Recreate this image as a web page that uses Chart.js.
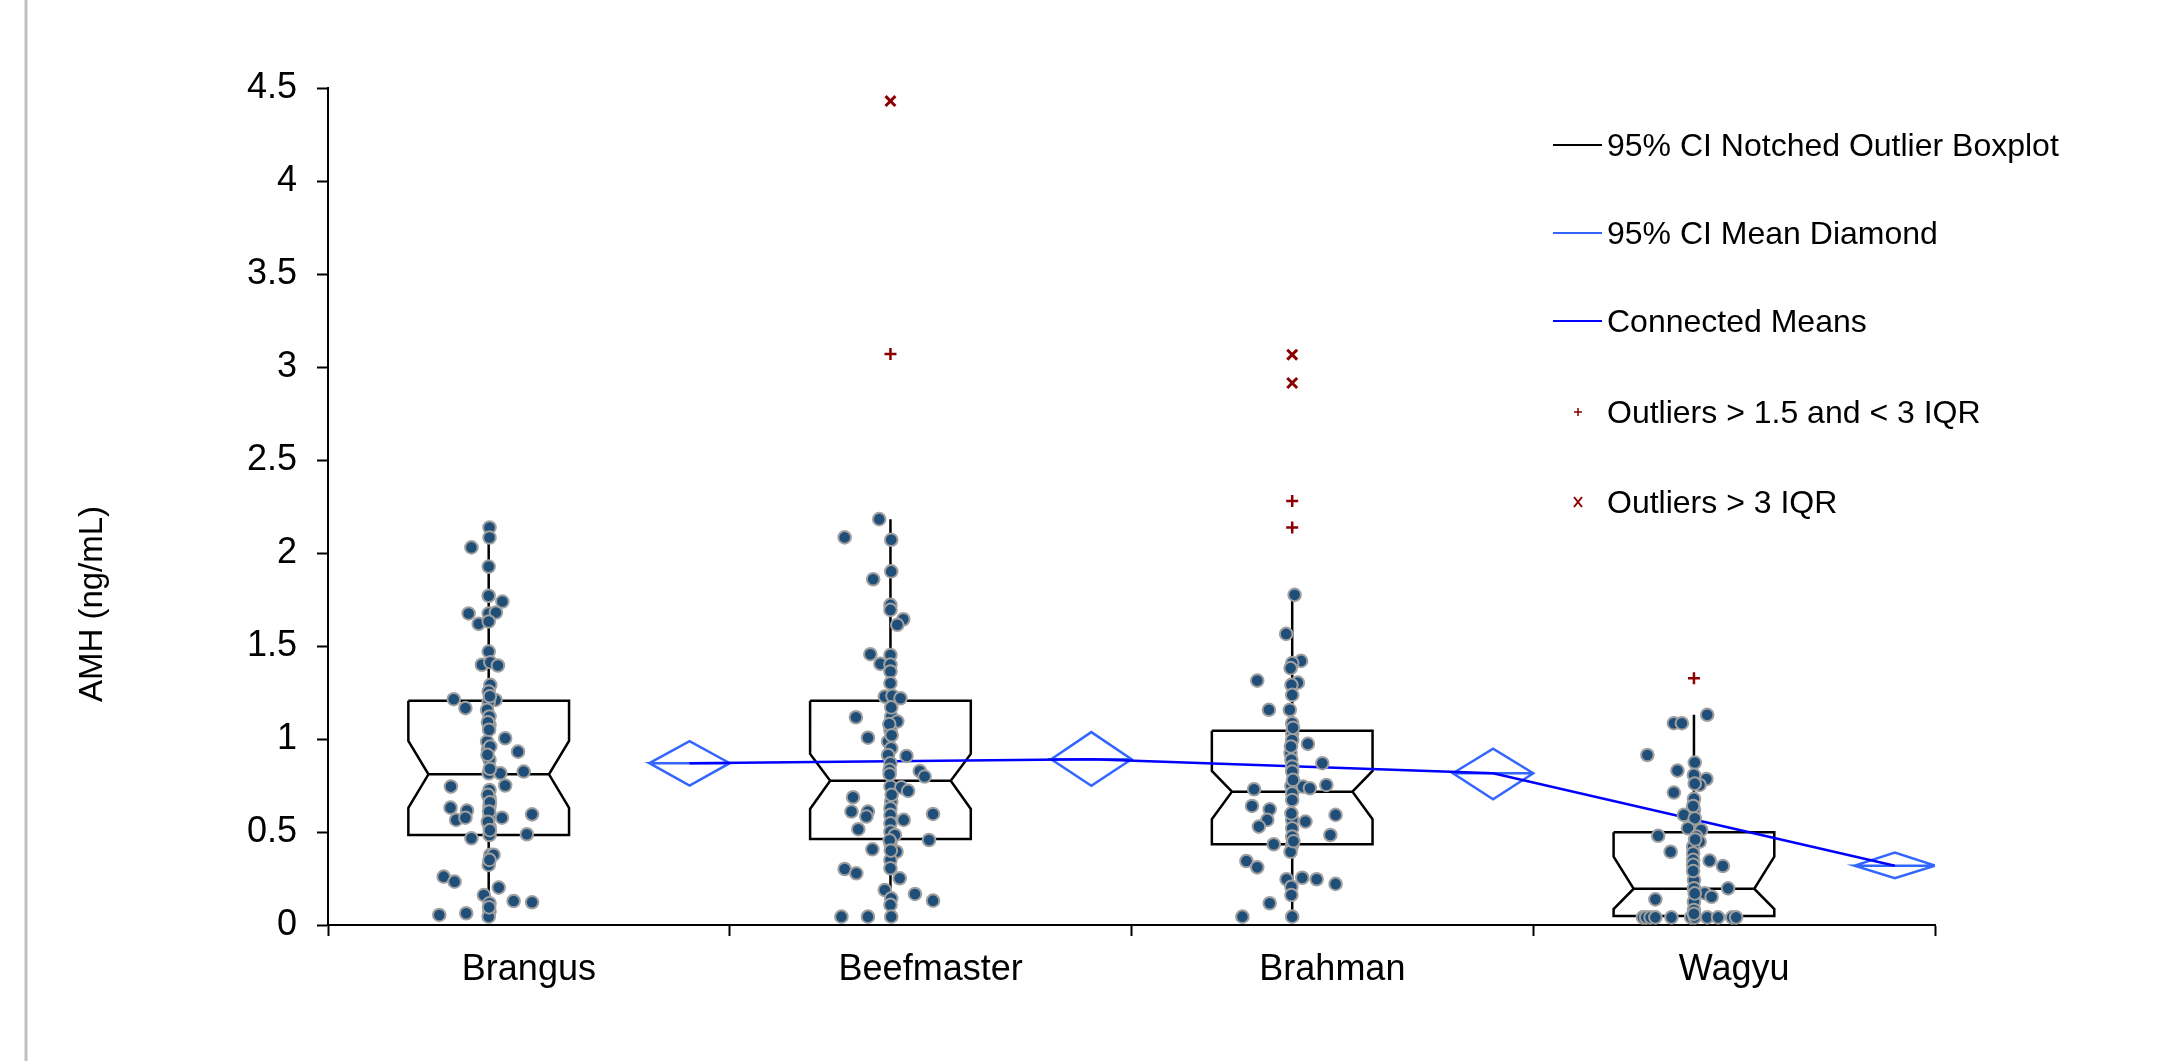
<!DOCTYPE html>
<html>
<head>
<meta charset="utf-8">
<script src="https://cdn.jsdelivr.net/npm/chart.js@4.4.0/dist/chart.umd.min.js"></script>
<style>
  html, body { margin: 0; padding: 0; background: #fff; }
  #wrap { width: 2167px; height: 1061px; }
</style>
</head>
<body>
<div id="wrap"><canvas id="amhChart" width="2167" height="1061"></canvas></div>
<script>
var categories = ["Brangus", "Beefmaster", "Brahman", "Wagyu"];
var yTicks = [0, 0.5, 1, 1.5, 2, 2.5, 3, 3.5, 4, 4.5];

// notched boxplot stats
var q1 = [0.484, 0.463, 0.434, 0.048];
var notchLow = [0.63, 0.624, 0.569, 0.086];
var median = [0.81, 0.775, 0.717, 0.195];
var notchHigh = [0.99, 0.92, 0.828, 0.367];
var q3 = [1.205, 1.205, 1.044, 0.499];
var whiskerLow = [0.045, 0.045, 0.045, 0.045];
var whiskerHigh = [2.137, 2.182, 1.775, 1.13];

// mean diamonds
var means = [0.87, 0.891, 0.816, 0.319];
var ciLow = [0.749, 0.748, 0.676, 0.251];
var ciHigh = [0.988, 1.037, 0.948, 0.389];

// outliers
var mildOutliers = [[], [3.07], [2.28, 2.137], [1.327]];
var extremeOutliers = [[], [4.43], [3.066, 2.914], []];

// individual animals (value, horizontal jitter in category units)
var brangusAMH = [2.137, 2.083, 2.03, 1.927, 1.77, 1.739, 1.675, 1.675, 1.68, 1.619,
  1.632, 1.47, 1.399, 1.413, 1.395, 1.291, 1.255, 1.214, 1.21, 1.2,
  1.166, 1.157, 1.121, 1.076, 1.004, 0.986, 0.941, 0.932, 0.888, 0.816,
  0.816, 0.825, 0.75, 0.744, 0.726, 0.681, 0.631, 0.615, 0.637, 0.565,
  0.577, 0.583, 0.577, 0.595, 0.529, 0.484, 0.488, 0.466, 0.377, 0.378,
  0.323, 0.26, 0.233, 0.201, 0.161, 0.129, 0.122, 0.117, 0.072, 0.054,
  0.063, 0.045, 1.23, 1.09, 1.05, 0.96, 0.915, 0.84, 0.7, 0.66,
  0.61, 0.555, 0.51, 0.35, 0.095];
var brangusJitter = [0.002, 0.002, -0.043, 0, 0, 0.034, -0.05, 0, 0.018, -0.025,
  0, 0, -0.017, 0.004, 0.023, 0.004, 0, -0.087, 0.017, 0,
  -0.058, -0.004, 0.002, 0.002, 0.041, -0.004, -0.002, 0.073, 0.002, 0,
  0.029, 0.087, 0.041, -0.094, 0.002, 0.002, -0.095, -0.054, 0.002, -0.081,
  -0.058, 0.002, 0.033, 0.108, 0.002, 0.002, 0.095, -0.043, 0.004, 0.012,
  0, -0.112, -0.085, 0.025, -0.012, 0.062, 0.108, 0.002, 0.002, -0.123,
  -0.056, 0, 0.003, -0.002, 0.001, 0.004, -0.003, 0.003, -0.002, 0.003,
  0.001, -0.002, 0.003, 0.002, 0.001];

var beefmasterAMH = [2.182, 2.084, 2.071, 1.901, 1.859, 1.721, 1.694, 1.644, 1.614, 1.456,
  1.452, 1.404, 1.4, 1.363, 1.3, 1.228, 1.232, 1.219, 1.117, 1.12,
  1.094, 1.049, 1.007, 0.986, 0.95, 0.909, 0.914, 0.87, 0.834, 0.828,
  0.798, 0.744, 0.74, 0.721, 0.687, 0.663, 0.628, 0.61, 0.61, 0.583,
  0.592, 0.565, 0.597, 0.547, 0.515, 0.502, 0.484, 0.457, 0.439, 0.407,
  0.394, 0.35, 0.305, 0.301, 0.278, 0.251, 0.188, 0.167, 0.143, 0.131,
  0.108, 0.045, 0.045, 0.045, 1.17, 1.08, 1.02, 0.81, 0.7, 0.455,
  0.4];
var beefmasterJitter = [-0.028, -0.114, 0.002, 0.002, -0.043, 0, 0, 0.032, 0.017, -0.05,
  0, -0.025, 0, 0, 0, -0.014, 0.005, 0.025, -0.086, 0.002,
  0.017, 0, -0.056, -0.006, 0.002, 0.04, -0.006, 0, -0.002, 0.073,
  0.085, 0, 0.027, 0.044, -0.093, 0.002, 0, -0.097, -0.056, -0.06,
  0, 0.033, 0.106, 0, -0.08, 0, 0.011, 0.096, 0, -0.045,
  0.015, 0, 0, -0.114, -0.085, 0.023, -0.014, 0.061, 0.002, 0.106,
  0, -0.122, -0.056, 0.002, 0.002, -0.003, 0.003, -0.002, 0.003, -0.002,
  0.001];

var brahmanAMH = [1.775, 1.565, 1.42, 1.408, 1.381, 1.314, 1.303, 1.291, 1.237, 1.157,
  1.157, 1.085, 1.031, 0.995, 0.974, 0.923, 0.888, 0.87, 0.852, 0.825,
  0.73, 0.748, 0.744, 0.735, 0.753, 0.708, 0.64, 0.622, 0.672, 0.565,
  0.556, 0.592, 0.565, 0.529, 0.52, 0.484, 0.475, 0.434, 0.43, 0.394,
  0.344, 0.31, 0.246, 0.254, 0.246, 0.221, 0.206, 0.161, 0.117, 0.045,
  0.045, 1.06, 0.96, 0.78, 0.6, 0.45];
var brahmanJitter = [0.006, -0.015, 0.022, 0, -0.004, -0.087, 0.014, -0.002, 0, -0.058,
  -0.006, 0, 0, 0, 0.039, -0.004, -0.002, 0.075, 0, 0,
  -0.095, -0.002, 0.027, 0.044, 0.085, 0, -0.1, -0.056, 0, 0,
  0.033, 0.108, -0.062, -0.083, 0, 0.095, 0, -0.046, 0, -0.004,
  -0.114, -0.087, -0.014, 0.025, 0.061, 0.108, -0.002, -0.002, -0.056, -0.124,
  0, 0.002, -0.003, 0.002, -0.002, 0.003];

var wagyuAMH = [1.13, 1.085, 1.085, 0.914, 0.873, 0.83, 0.807, 0.785, 0.753, 0.712,
  0.678, 0.619, 0.592, 0.574, 0.52, 0.511, 0.48, 0.475, 0.448, 0.421,
  0.394, 0.386, 0.35, 0.346, 0.317, 0.323, 0.242, 0.197, 0.197, 0.171,
  0.152, 0.138, 0.125, 0.081, 0.041, 0.041, 0.041, 0.041, 0.041, 0.041,
  0.041, 0.041, 0.041, 0.041, 0.041, 0.06, 0.76, 0.64, 0.46, 0.29,
  0.17];
var wagyuJitter = [0.033, -0.05, -0.03, -0.116, 0.002, -0.041, 0, 0.031, 0.014, -0.05,
  0, 0, -0.025, 0.002, -0.015, 0.018, -0.089, 0.006, 0.014, -0.002,
  -0.058, -0.002, -0.002, 0.039, 0.072, -0.002, 0, 0.085, 0, 0.027,
  0.044, -0.096, 0, 0, -0.127, -0.119, -0.108, -0.096, -0.056, -0.007,
  0.002, 0.033, 0.06, 0.095, 0.105, 0, 0.002, -0.002, 0.003, -0.002,
  0.002];

var legendLabels = ["95% CI Notched Outlier Boxplot", "95% CI Mean Diamond", "Connected Means",
  "Outliers > 1.5 and < 3 IQR", "Outliers > 3 IQR"];

var dotValues = [brangusAMH, beefmasterAMH, brahmanAMH, wagyuAMH];
var dotJitter = [brangusJitter, beefmasterJitter, brahmanJitter, wagyuJitter];

var boxColor = "#000000";
var diamondColor = "#3366FF";
var meanColor = "#0000FF";
var dotFill = "#1F4E79";
var dotEdge = "#A0A0A0";
var outlierColor = "#8B0000";
var FONT = "'Liberation Sans', Arial, sans-serif";

// horizontal placement inside each category band (x axis runs 0..4)
var boxPos = 0.4, boxHalf = 0.2, notchHalf = 0.15, diamondPos = 0.9, diamondHalf = 0.1;

var boxPts = [], diamondPts = [], meanPts = [], dotPts = [], mildPts = [], extremePts = [];
categories.forEach(function (name, i) {
  var c = i + boxPos;
  boxPts.push(
    {x: c - boxHalf, y: q3[i]}, {x: c + boxHalf, y: q3[i]}, {x: c + boxHalf, y: notchHigh[i]},
    {x: c + notchHalf, y: median[i]}, {x: c + boxHalf, y: notchLow[i]}, {x: c + boxHalf, y: q1[i]},
    {x: c - boxHalf, y: q1[i]}, {x: c - boxHalf, y: notchLow[i]}, {x: c - notchHalf, y: median[i]},
    {x: c - boxHalf, y: notchHigh[i]}, {x: c - boxHalf, y: q3[i]}, {x: c, y: null},
    {x: c - notchHalf, y: median[i]}, {x: c + notchHalf, y: median[i]}, {x: c, y: null},
    {x: c, y: q3[i]}, {x: c, y: whiskerHigh[i]}, {x: c, y: null},
    {x: c, y: q1[i]}, {x: c, y: whiskerLow[i]}, {x: c, y: null}
  );
  var d = i + diamondPos;
  diamondPts.push(
    {x: d - diamondHalf, y: means[i]}, {x: d, y: ciHigh[i]}, {x: d + diamondHalf, y: means[i]},
    {x: d, y: ciLow[i]}, {x: d - diamondHalf, y: means[i]}, {x: d + diamondHalf, y: means[i]},
    {x: d, y: null}
  );
  meanPts.push({x: d, y: means[i]});
  dotValues[i].forEach(function (v, k) {
    dotPts.push({x: c + dotJitter[i][k], y: v});
  });
  mildOutliers[i].forEach(function (v) { mildPts.push({x: c, y: v}); });
  extremeOutliers[i].forEach(function (v) { extremePts.push({x: c, y: v}); });
});

var decorPlugin = {
  id: "decor",
  beforeDraw: function (chart) {
    var ctx = chart.ctx;
    ctx.save();
    ctx.fillStyle = "#ffffff";
    ctx.fillRect(0, 0, chart.width, chart.height);
    ctx.strokeStyle = "#BFBFBF";
    ctx.lineWidth = 3;
    ctx.beginPath();
    ctx.moveTo(26, 0);
    ctx.lineTo(26, chart.height);
    ctx.stroke();
    ctx.restore();
  },
  afterDraw: function (chart) {
    var ctx = chart.ctx;
    ctx.save();
    // y axis title
    ctx.translate(93, 604);
    ctx.rotate(-Math.PI / 2);
    ctx.fillStyle = "#000";
    ctx.font = "33px " + FONT;
    ctx.textAlign = "center";
    ctx.textBaseline = "middle";
    ctx.fillText("AMH (ng/mL)", 0, 0);
    ctx.restore();

    // legend
    var lx = 1553, tx = 1607, rowY = [145, 233, 321, 412, 502];
    var lineCols = [boxColor, diamondColor, meanColor];
    ctx.save();
    ctx.font = "32px " + FONT;
    ctx.textBaseline = "middle";
    ctx.fillStyle = "#000";
    legendLabels.forEach(function (label, k) {
      var y = rowY[k];
      ctx.strokeStyle = k < 3 ? lineCols[k] : outlierColor;
      if (k < 3) {
        ctx.lineWidth = 2;
        ctx.beginPath();
        ctx.moveTo(lx, y);
        ctx.lineTo(lx + 49, y);
        ctx.stroke();
      } else if (k === 3) {
        ctx.lineWidth = 1.5;
        ctx.beginPath();
        ctx.moveTo(1578 - 4, y); ctx.lineTo(1578 + 4, y);
        ctx.moveTo(1578, y - 4); ctx.lineTo(1578, y + 4);
        ctx.stroke();
      } else {
        ctx.lineWidth = 2;
        ctx.beginPath();
        ctx.moveTo(1578 - 4, y - 5); ctx.lineTo(1578 + 4, y + 5);
        ctx.moveTo(1578 + 4, y - 5); ctx.lineTo(1578 - 4, y + 5);
        ctx.stroke();
      }
      ctx.fillText(label, tx, y + 2);
    });
    ctx.restore();
  }
};

new Chart("amhChart", {
  type: "scatter",
  data: {
    datasets: [{
      label: "Outliers > 3 IQR",
      data: extremePts,
      pointStyle: "crossRot",
      pointRadius: 7,
      borderColor: outlierColor,
      borderWidth: 3,
      order: 0
    }, {
      label: "Outliers > 1.5 and < 3 IQR",
      data: mildPts,
      pointStyle: "cross",
      pointRadius: 6,
      borderColor: outlierColor,
      borderWidth: 2.5,
      order: 1
    }, {
      label: "AMH",
      data: dotPts,
      pointRadius: 6.3,
      pointBackgroundColor: dotFill,
      pointBorderColor: dotEdge,
      pointBorderWidth: 2,
      order: 2
    }, {
      label: "Connected Means",
      data: meanPts,
      showLine: true,
      pointRadius: 0,
      borderColor: meanColor,
      borderWidth: 2.5,
      order: 3
    }, {
      label: "95% CI Mean Diamond",
      data: diamondPts,
      showLine: true,
      spanGaps: false,
      pointRadius: 0,
      borderColor: diamondColor,
      borderWidth: 2.5,
      order: 4
    }, {
      label: "95% CI Notched Outlier Boxplot",
      data: boxPts,
      showLine: true,
      spanGaps: false,
      pointRadius: 0,
      borderColor: boxColor,
      borderWidth: 2.5,
      order: 5
    }]
  },
  options: {
    responsive: false,
    animation: false,
    devicePixelRatio: 1,
    events: [],
    layout: {
      padding: { top: 88, right: 232, bottom: 56, left: 0 }
    },
    plugins: {
      legend: { display: false },
      tooltip: { enabled: false }
    },
    scales: {
      x: {
        type: "linear",
        min: 0,
        max: 4,
        afterFit: function (s) { s.height = 80; },
        border: { display: true, color: "#000", width: 2 },
        grid: {
          drawOnChartArea: false,
          drawTicks: true,
          tickLength: 11,
          tickWidth: 2,
          tickColor: function (ctx) {
            return ctx.tick && Number.isInteger(ctx.tick.value) ? "#000" : "rgba(0,0,0,0)";
          }
        },
        ticks: {
          stepSize: 0.5,
          autoSkip: false,
          maxRotation: 0,
          padding: 12,
          color: "#000",
          font: { size: 36, family: FONT },
          callback: function (v) {
            var k = v - 0.5;
            return Number.isInteger(k) ? categories[k] : "";
          }
        }
      },
      y: {
        type: "linear",
        min: 0,
        max: 4.5,
        afterFit: function (s) { s.width = 328; },
        afterBuildTicks: function (s) {
          s.ticks = yTicks.map(function (v) { return { value: v }; });
        },
        border: { display: true, color: "#000", width: 2 },
        grid: {
          drawOnChartArea: false,
          drawTicks: true,
          tickLength: 11,
          tickWidth: 2,
          tickColor: "#000"
        },
        ticks: {
          padding: 20,
          color: "#000",
          font: { size: 36, family: FONT },
          callback: function (v) { return String(v); }
        }
      }
    }
  },
  plugins: [decorPlugin]
});
</script>
</body>
</html>
